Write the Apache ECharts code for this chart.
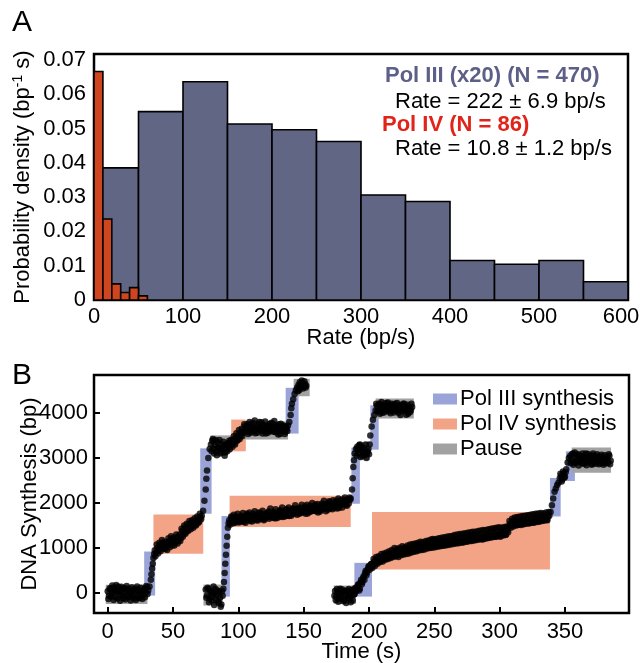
<!DOCTYPE html>
<html>
<head>
<meta charset="utf-8">
<script src="https://cdn.jsdelivr.net/npm/echarts@6/dist/echarts.min.js"></script>
<style>
html,body{margin:0;padding:0;background:#fff;}
#chart{width:644px;height:663px;}
</style>
</head>
<body>
<div id="chart"></div>
<script>
// ---------- Panel A: histogram data ----------
const polIIIBinStart = [0, 50, 100, 150, 200, 250, 300, 350, 400, 450, 500, 550];
const polIIIBinWidth = 50;
const polIIIDensity = [0.0385, 0.0549, 0.0636, 0.0513, 0.0496, 0.0462, 0.0306, 0.0287, 0.0115, 0.0104, 0.0115, 0.0053];
const polIVBinStart = [0, 10, 20, 30, 40, 50];
const polIVBinWidth = 10;
const polIVDensity = [0.0666, 0.0236, 0.0047, 0.0022, 0.0036, 0.0012];
const rateTicks = [0, 100, 200, 300, 400, 500, 600];
const densityTicks = [0, 0.01, 0.02, 0.03, 0.04, 0.05, 0.06, 0.07];

// ---------- Panel B: boxes [t0, t1, bp0, bp1] ----------
const polIIIBoxes = [
  [27.9, 36.3, -53, 924], [70.8, 79.5, 1762, 3213], [136.2, 146.1, 3540, 4556],
  [87.1, 93.5, -76, 1711], [186.5, 193, 1984, 3229], [201, 207.4, 3184, 4169],
  [188.8, 202.3, -76, 673], [338.5, 346.7, 1702, 2556], [350.7, 357.6, 2489, 3147]
];
const polIVBoxes = [
  [35, 73.1, 873, 1747], [94.5, 105.7, 3147, 3851],
  [93.3, 186, 1467, 2162], [202.3, 338.5, 524, 1800]
];
const pauseBoxes = [
  [-1.5, 30.4, -238, 184], [78.5, 95, 3120, 3500], [104.8, 138, 3407, 3813], [142.3, 154.6, 4369, 4756],
  [73.3, 87.9, -275, 191], [191, 200.6, 2950, 3356], [205.1, 234.3, 3873, 4318],
  [173, 190, -238, 169], [355.1, 385.2, 2673, 3229]
];
const timeTicks = [0, 50, 100, 150, 200, 250, 300, 350];
const bpTicks = [0, 1000, 2000, 3000, 4000];

// ---------- Panel B: traces [t, bp] ----------
const trace1 = [
  [0,40],[1,-60],[2,80],[3,-20],[4,120],[5,10],[6,-90],[7,60],[8,150],[9,30],[10,-40],[11,90],[12,-110],[13,20],[14,70],[15,-30],[16,100],[17,-80],[18,0],[19,60],[20,-120],[21,40],[22,-50],[23,80],[24,-10],[25,-100],[26,50],[27,-40],[28,90],[29,10],[30,130],[31,60],
  [32,150],[33,300],[33.5,420],[34,550],[34.5,650],[35,780],[35.5,870],[36,950],
  [37,900],[38,1000],[39,950],[40,1050],[41,1010],[42,1100],[43,1060],[44,980],[45,1120],[46,1080],[47,1150],[48,1090],[49,1200],[50,1130],[51,1060],[52,1180],[53,1240],[54,1150],[55,1300],[56,1220],[57,1380],[58,1300],[59,1450],[60,1360],[61,1480],[62,1420],[63,1540],[64,1470],[65,1560],[66,1500],[67,1580],[68,1530],[69,1620],[70,1590],[71,1680],[72,1720],
  [73,1830],[74,2050],[75,2300],[75.5,2540],[76,2720],[77,3000],[78,3200],
  [79,3300],[80,3380],[81,3200],[82,3280],[83,3150],[84,3350],[85,3220],[86,3100],[87,3300],[88,3180],[89,3260],[90,3120],[91,3300],[92,3230],[93,3380],[94,3270],[95,3320],
  [96,3400],[97,3330],[98,3450],[99,3380],[100,3500],[101,3420],[102,3560],[103,3480],[104,3600],[105,3700],[106,3620],
  [107,3750],[108,3580],[109,3690],[110,3620],[111,3780],[112,3660],[113,3550],[114,3700],[115,3640],[116,3800],[117,3680],[118,3600],[119,3730],[120,3650],[121,3540],[122,3710],[123,3670],[124,3760],[125,3620],[126,3690],[127,3580],[128,3720],[129,3650],[130,3610],[131,3740],[132,3530],[133,3680],[134,3620],[135,3700],[136,3580],[137,3650],[138,3720],
  [139,3800],[140,3950],[140.5,4100],[141,4200],[142,4300],[143,4420],[144,4500],
  [145,4560],[146,4620],[146.5,4500],[147,4680],[148,4600],[149,4650],[150,4580],[151,4640],[152,4600]
];
const trace1b = [
  [0.5,-130],[1.5,110],[2.5,-80],[3.5,170],[4.5,-150],[5.5,60],[6.5,180],[7.5,-120],[8.5,20],[9.5,-170],[10.5,140],[11.5,-60],[12.5,110],[13.5,-140],[14.5,160],[15.5,-90],[16.5,30],[17.5,-160],[18.5,130],[19.5,-70],[20.5,90],[21.5,-150],[22.5,150],[23.5,-110],[24.5,40],[25.5,120],[26.5,-130],[27.5,30],[28.5,-90],[29.5,160],[30.5,-20],
  [36.5,820],[37.5,1080],[38.5,880],[39.5,1120],[40.5,930],[41.5,1180],[42.5,990],[43.5,1140],[44.5,1050],[45.5,960],[46.5,1220],[47.5,1020],[48.5,1260],[49.5,1060],[50.5,1230],[51.5,1120],[52.5,1300],[53.5,1100],[54.5,1250],[55.5,1160],[56.5,1430],[57.5,1250],[58.5,1500],[59.5,1320],[60.5,1540],[61.5,1380],[62.5,1600],[63.5,1420],[64.5,1620],[65.5,1450],[66.5,1660],[67.5,1500],[68.5,1700],[69.5,1560],[70.5,1760],[71.5,1640],
  [79.5,3150],[80.5,3420],[81.5,3100],[82.5,3400],[83.5,3060],[84.5,3230],[85.5,3400],[86.5,3200],[87.5,3120],[88.5,3360],[89.5,3050],[90.5,3300],[91.5,3150],[92.5,3330],[93.5,3200],[94.5,3400],
  [95.5,3250],[96.5,3480],[97.5,3300],[98.5,3550],[99.5,3400],[100.5,3620],[101.5,3480],[102.5,3650],[103.5,3550],[104.5,3750],[105.5,3580],
  [106.5,3700],[107.5,3530],[108.5,3800],[109.5,3560],[110.5,3720],[111.5,3600],[112.5,3830],[113.5,3650],[114.5,3560],[115.5,3740],[116.5,3620],[117.5,3790],[118.5,3540],[119.5,3700],[120.5,3810],[121.5,3630],[122.5,3560],[123.5,3700],[124.5,3590],[125.5,3780],[126.5,3640],[127.5,3820],[128.5,3570],[129.5,3710],[130.5,3520],[131.5,3680],[132.5,3760],[133.5,3600],[134.5,3720],[135.5,3530],[136.5,3690],[137.5,3600],
  [145.5,4480],[147.5,4560],[148.5,4720],[149.5,4540],[150.5,4700],[151.5,4560]
];
const trace2 = [
  [75,80],[76,-50],[77,100],[78,-120],[79,20],[80,-80],[81,150],[82,-30],[83,-150],[84,60],[85,-220],[86,-100],[87,-250],[88,-60],
  [88.5,100],[89,250],[89.5,450],[90,650],[90.5,850],[91,1050],[91.5,1250],[92,1450],[92.5,1550],
  [93,1620],[94,1580],[95,1680],[96,1550],[97,1640],[98,1700],[99,1600],[100,1660],[101,1590],[102,1720],[103,1650],[104,1580],[105,1690],[106,1620],[107,1740],[108,1660],[109,1600],[110,1700],[111,1760],[112,1640],[113,1690],[114,1730],[115,1610],[116,1700],[117,1780],[118,1660],[119,1720],[120,1640],[121,1760],[122,1700],[123,1810],[124,1690],[125,1750],[126,1680],[127,1800],[128,1730],[129,1660],[130,1770],[131,1720],[132,1840],[133,1750],[134,1690],[135,1800],[136,1740],[137,1860],[138,1770],[139,1710],[140,1820],[141,1760],[142,1880],[143,1790],[144,1850],[145,1740],[146,1820],[147,1900],[148,1780],[149,1860],[150,1800],[151,1920],[152,1830],[153,1770],[154,1880],[155,1940],[156,1820],[157,1900],[158,1850],[159,1960],[160,1870],[161,1790],[162,1910],[163,1850],[164,1990],[165,1880],[166,1940],[167,1820],[168,1960],[169,1900],[170,2020],[171,1920],[172,1860],[173,1980],[174,1930],[175,2050],[176,1950],[177,1890],[178,2000],[179,1960],[180,2080],[181,1980],[182,2040],[183,1940],[184,2060],[185,2120],[186,2100],
  [187,2300],[187.5,2550],[188,2800],[188.5,2950],[189,3100],[190,3200],
  [191,3250],[192,3100],[193,3300],[194,3180],[195,3050],[196,3220],[197,3120],[198,3000],[199,3150],[200,3080],
  [200.5,3300],[201,3500],[202,3700],[203,3850],[204,3950],[205,4050],
  [206,4150],[207,4050],[208,4200],[209,4100],[210,4000],[211,4170],[212,4080],[213,4220],[214,4120],[215,4030],[216,4180],[217,4090],[218,4140],[219,4010],[220,4200],[221,4110],[222,4060],[223,4160],[224,3950],[225,4120],[226,4080],[227,4190],[228,4040],[229,4140],[230,3980],[231,4100],[232,4060],[233,4130]
];
const trace2b = [
  [75.5,-100],[76.5,120],[77.5,-200],[78.5,50],[79.5,-160],[80.5,10],[81.5,-260],[82.5,90],[83.5,-40],[84.5,-180],[85.5,30],[86.5,-300],[87.5,40],
  [93.5,1520],[94.5,1700],[95.5,1600],[96.5,1740],[97.5,1560],[98.5,1620],[99.5,1760],[100.5,1570],[101.5,1680],[102.5,1600],[103.5,1780],[104.5,1660],[105.5,1560],[106.5,1760],[107.5,1640],[108.5,1790],[109.5,1680],[110.5,1590],[111.5,1700],[112.5,1820],[113.5,1620],[114.5,1680],[115.5,1790],[116.5,1650],[117.5,1720],[118.5,1830],[119.5,1620],[120.5,1740],[121.5,1680],[122.5,1780],[123.5,1650],[124.5,1880],[125.5,1700],[126.5,1780],[127.5,1660],[128.5,1860],[129.5,1740],[130.5,1680],[131.5,1820],[132.5,1700],[133.5,1900],[134.5,1760],[135.5,1700],[136.5,1850],[137.5,1720],[138.5,1900],[139.5,1780],[140.5,1720],[141.5,1870],[142.5,1760],[143.5,1950],[144.5,1790],[145.5,1880],[146.5,1760],[147.5,1840],[148.5,1960],[149.5,1800],[150.5,1880],[151.5,1760],[152.5,1960],[153.5,1860],[154.5,1800],[155.5,1880],[156.5,2000],[157.5,1830],[158.5,1920],[159.5,1820],[160.5,1980],[161.5,1890],[162.5,1810],[163.5,1950],[164.5,1860],[165.5,2050],[166.5,1900],[167.5,1980],[168.5,1850],[169.5,2040],[170.5,1880],[171.5,1980],[172.5,2060],[173.5,1900],[174.5,2000],[175.5,1880],[176.5,2100],[177.5,1960],[178.5,2060],[179.5,1900],[180.5,2010],[181.5,2120],[182.5,1960],[183.5,2080],[184.5,1990],[185.5,2070],
  [190.5,3050],[191.5,3180],[192.5,3280],[193.5,3020],[194.5,3250],[195.5,3140],[196.5,3060],[197.5,3300],[198.5,3100],[199.5,3200],
  [205.5,4200],[206.5,4030],[207.5,4180],[208.5,3980],[209.5,4240],[210.5,4090],[211.5,4010],[212.5,4160],[213.5,4050],[214.5,4230],[215.5,4100],[216.5,3990],[217.5,4200],[218.5,4060],[219.5,4170],[220.5,4050],[221.5,4220],[222.5,4000],[223.5,4100],[224.5,4180],[225.5,4040],[226.5,4210],[227.5,4080],[228.5,3960],[229.5,4180],[230.5,4100],[231.5,4020],[232.5,4200]
];
const trace3 = [
  [174,50],[175,-80],[176,20],[177,-120],[178,100],[179,-40],[180,30],[181,-150],[182,-60],[183,60],[184,-100],[185,10],[186,-200],[187,-50],[188,80],[189,-20],[190,40],
  [191,120],[192,200],[193,100],[194,300],[195,250],[196,380],[197,450],[198,400],[199,520],[200,600],[201,560],[202,650],
  [203,620],[204,700],[205,660],[206,740],[207,690],[208,780],[209,720],[210,800],[211,760],[212,830],[213,780],[214,850],[215,800],[216,870],[217,820],[218,900],[219,840],[220,880],[221,920],[222,850],[223,960],[224,890],[225,930],[226,870],[227,980],[228,910],[229,950],[230,1000],[231,920],[232,970],[233,1020],[234,940],[235,990],[236,1050],[237,960],[238,1010],[239,1080],[240,980],[241,1030],[242,1090],[243,1000],[244,1060],[245,1110],[246,1020],[247,1080],[248,1040],[249,1200],[250,1070],[251,1110],[252,1050],[253,1130],[254,1090],[255,1150],[256,1060],[257,1120],[258,1170],[259,1080],[260,1140],[261,1100],[262,1180],[263,1110],[264,1160],[265,1200],[266,1120],[267,1180],[268,1140],[269,1220],[270,1160],[271,1210],[272,1130],[273,1240],[274,1190],[275,1150],[276,1250],[277,1200],[278,1270],[279,1180],[280,1230],[281,1290],[282,1200],[283,1260],[284,1220],[285,1300],[286,1240],[287,1190],[288,1280],[289,1250],[290,1310],[291,1230],[292,1290],[293,1260],[294,1340],[295,1270],[296,1320],[297,1250],[298,1350],[299,1290],[300,1330],[301,1280],[302,1370],[303,1310],[304,1360],[305,1300],[306,1400],[307,1480],[308,1540],[309,1500],[310,1580],[311,1530],[312,1600],[313,1550],[314,1510],[315,1590],[316,1560],[317,1620],[318,1540],[319,1600],[320,1570],[321,1630],[322,1580],[323,1550],[324,1640],[325,1600],[326,1570],[327,1650],[328,1610],[329,1680],[330,1590],[331,1640],[332,1690],[333,1620],[334,1660],[335,1700],[336,1630],[337,1690],[338,1720],
  [339,1800],[340,1950],[341,2100],[342,2250],[343,2320],[344,2400],[345,2450],[346,2550],
  [347,2600],[348,2520],[349,2650],[350,2580],
  [351,2750],[352,2900],[353,3000],
  [354,3050],[355,2950],[356,3100],[357,2900],[358,3000],[359,2950],[360,3080],[361,2920],[362,2990],[363,2880],[364,3030],[365,2960],[366,3100],[367,2900],[368,3010],[369,2940],[370,3060],[371,2870],[372,2980],[373,3040],[374,2910],[375,3000],[376,2860],[377,2970],[378,3070],[379,2900],[380,2950],[381,2880],[382,3010],[383,2920],[384,3050],[385,2940]
];
const trace3b = [
  [173.5,-60],[174.5,-150],[175.5,90],[176.5,-190],[177.5,-20],[178.5,-100],[179.5,80],[180.5,-180],[181.5,40],[182.5,-220],[183.5,-40],[184.5,90],[185.5,-130],[186.5,60],[187.5,-160],[188.5,-30],[189.5,120],
  [190.5,60],[191.5,180],[192.5,60],[193.5,240],[194.5,200],[195.5,340],[196.5,300],[197.5,500],[198.5,460],[199.5,580],[200.5,520],[201.5,640],[202.5,560],
  [203.5,760],[204.5,600],[205.5,800],[206.5,650],[207.5,820],[208.5,690],[209.5,870],[210.5,700],[211.5,880],[212.5,740],[213.5,900],[214.5,760],[215.5,930],[216.5,780],[217.5,960],[218.5,800],[219.5,1000],[220.5,820],[221.5,980],[222.5,800],[223.5,1010],[224.5,840],[225.5,1040],[226.5,860],[227.5,1020],[228.5,870],[229.5,1060],[230.5,880],[231.5,1080],[232.5,900],[233.5,1090],[234.5,920],[235.5,1100],[236.5,930],[237.5,1120],[238.5,950],[239.5,1140],[240.5,960],[241.5,1130],[242.5,970],[243.5,1160],[244.5,990],[245.5,1170],[246.5,1000],[247.5,1190],[248.5,1010],[249.5,1180],[250.5,1020],[251.5,1200],[252.5,1030],[253.5,1220],[254.5,1040],[255.5,1230],[256.5,1050],[257.5,1240],[258.5,1060],[259.5,1250],[260.5,1070],[261.5,1260],[262.5,1080],[263.5,1270],[264.5,1090],[265.5,1290],[266.5,1100],[267.5,1300],[268.5,1110],[269.5,1310],[270.5,1120],[271.5,1320],[272.5,1130],[273.5,1330],[274.5,1140],[275.5,1340],[276.5,1150],[277.5,1350],[278.5,1160],[279.5,1360],[280.5,1170],[281.5,1360],[282.5,1180],[283.5,1380],[284.5,1190],[285.5,1390],[286.5,1200],[287.5,1400],[288.5,1210],[289.5,1400],[290.5,1220],[291.5,1420],[292.5,1230],[293.5,1430],[294.5,1240],[295.5,1440],[296.5,1250],[297.5,1450],[298.5,1260],[299.5,1460],[300.5,1250],[301.5,1450],[302.5,1280],[303.5,1470],[304.5,1290],[305.5,1480],[306.5,1350],[307.5,1600],[308.5,1450],[309.5,1650],[310.5,1480],[311.5,1680],[312.5,1500],[313.5,1690],[314.5,1520],[315.5,1700],[316.5,1510],[317.5,1710],[318.5,1530],[319.5,1720],[320.5,1540],[321.5,1730],[322.5,1550],[323.5,1740],[324.5,1560],[325.5,1750],[326.5,1570],[327.5,1760],[328.5,1580],[329.5,1770],[330.5,1590],[331.5,1780],[332.5,1600],[333.5,1770],[334.5,1610],[335.5,1790],[336.5,1620],[337.5,1800],
  [346.5,2650],[347.5,2480],[348.5,2700],[349.5,2560],[350.5,2680],
  [354.5,2880],[355.5,3080],[356.5,2850],[357.5,3120],[358.5,2900],[359.5,3060],[360.5,2830],[361.5,3050],[362.5,2950],[363.5,3100],[364.5,2870],[365.5,3010],[366.5,2840],[367.5,3090],[368.5,2920],[369.5,3040],[370.5,2850],[371.5,3100],[372.5,2930],[373.5,2870],[374.5,3080],[375.5,2950],[376.5,3040],[377.5,2880],[378.5,3010],[379.5,2850],[380.5,3060],[381.5,2960],[382.5,2890],[383.5,3080],[384.5,2860]
];

// ---------- build ----------
const FONT = 'Liberation Sans, Arial, Helvetica, sans-serif';
const histData = (starts, width, vals) => starts.map((s, i) => [s, s + width, vals[i]]);

function histRender(params, api) {
  const p0 = api.coord([api.value(0), api.value(2)]);
  const p1 = api.coord([api.value(1), 0]);
  return {
    type: 'rect',
    shape: { x: p0[0], y: p0[1], width: p1[0] - p0[0], height: p1[1] - p0[1] },
    style: { fill: api.visual('color'), stroke: '#000', lineWidth: 1.6 }
  };
}
function boxRender(params, api) {
  const p0 = api.coord([api.value(0), api.value(3)]);
  const p1 = api.coord([api.value(1), api.value(2)]);
  return {
    type: 'rect',
    shape: { x: p0[0], y: p0[1], width: p1[0] - p0[0], height: p1[1] - p0[1] },
    style: { fill: api.visual('color') }
  };
}

const COL_P3 = '#9aa4d8', COL_P4 = '#f3a487', COL_PAUSE = '#a2a2a2';
const dotSeries = (name, data) => ({
  name, type: 'scatter', xAxisIndex: 1, yAxisIndex: 1,
  symbolSize: 6.5, itemStyle: { color: '#000' }, z: 5, data
});

const chart = echarts.init(document.getElementById('chart'), null, { renderer: 'canvas' });
chart.setOption({
  backgroundColor: '#fff',
  animation: false,
  textStyle: { fontFamily: FONT },
  grid: [
    { left: 94, right: 16, top: 54, bottom: 363, show: true, borderColor: '#000', borderWidth: 2.5, backgroundColor: 'transparent', outerBoundsMode: 'none', containLabel: false },
    { left: 94, right: 15, top: 375, bottom: 50, show: true, borderColor: '#000', borderWidth: 2.5, backgroundColor: 'transparent', outerBoundsMode: 'none', containLabel: false }
  ],
  xAxis: [
    {
      gridIndex: 0, type: 'value', min: 0, max: 600, interval: 100,
      axisLine: { show: false, onZero: false }, axisTick: { show: false }, splitLine: { show: false },
      axisLabel: {
        color: '#000', fontSize: 22, fontFamily: FONT, margin: 6,
        customValues: rateTicks,
        formatter: v => v === 600 ? '{r|600}' : String(v),
        rich: { r: { fontSize: 22, fontFamily: FONT, color: '#000', padding: [0, 14, 0, 0] } }
      },
      name: 'Rate (bp/s)', nameLocation: 'middle', nameGap: 27, nameMoveOverlap: false,
      nameTextStyle: { color: '#000', fontSize: 22, fontFamily: FONT }
    },
    {
      gridIndex: 1, type: 'value', min: -10.5, max: 399,
      axisLine: { show: false, onZero: false }, splitLine: { show: false },
      axisTick: { show: true, inside: true, length: 6, lineStyle: { color: '#000', width: 2 }, customValues: timeTicks },
      axisLabel: { color: '#000', fontSize: 22, fontFamily: FONT, margin: 8, customValues: timeTicks, formatter: v => String(v) },
      name: 'Time (s)', nameLocation: 'middle', nameGap: 28, nameMoveOverlap: false,
      nameTextStyle: { color: '#000', fontSize: 22, fontFamily: FONT }
    }
  ],
  yAxis: [
    {
      gridIndex: 0, type: 'value', min: 0, max: 0.0717, interval: 0.01,
      axisLine: { show: false, onZero: false }, axisTick: { show: false }, splitLine: { show: false },
      axisLabel: {
        color: '#000', fontSize: 22, fontFamily: FONT, margin: 8,
        customValues: densityTicks,
        formatter: v => v === 0 ? '0' : v.toFixed(2)
      },
      name: 'Probability density (bp{sup|-1} s)', nameLocation: 'middle', nameGap: 59, nameMoveOverlap: false,
      nameTextStyle: {
        color: '#000', fontSize: 22, fontFamily: FONT,
        rich: { sup: { fontSize: 14, fontFamily: FONT, color: '#000', padding: [0, 0, 10, 0] } }
      }
    },
    {
      gridIndex: 1, type: 'value', min: -440, max: 4840,
      axisLine: { show: false, onZero: false }, splitLine: { show: false },
      axisTick: { show: true, inside: true, length: 6, lineStyle: { color: '#000', width: 2 }, customValues: bpTicks },
      axisLabel: { color: '#000', fontSize: 22, fontFamily: FONT, margin: 6, customValues: bpTicks, formatter: v => String(v) },
      name: 'DNA Synthesis (bp)', nameLocation: 'middle', nameGap: 53, nameMoveOverlap: false,
      nameTextStyle: { color: '#000', fontSize: 22, fontFamily: FONT }
    }
  ],
  legend: {
    orient: 'vertical', left: 428, top: 383,
    itemWidth: 24, itemHeight: 11, itemGap: 3,
    textStyle: { color: '#000', fontSize: 22, fontFamily: FONT, padding: [0, 0, 0, -2] },
    data: [
      { name: 'Pol III synthesis', icon: 'rect', itemStyle: { color: COL_P3 } },
      { name: 'Pol IV synthesis', icon: 'rect', itemStyle: { color: COL_P4 } },
      { name: 'Pause', icon: 'rect', itemStyle: { color: COL_PAUSE } }
    ]
  },
  graphic: [
    { type: 'text', left: 12, top: 8, style: { text: 'A', fontSize: 30, fontFamily: FONT, fill: '#000' } },
    { type: 'text', left: 12, top: 361, style: { text: 'B', fontSize: 30, fontFamily: FONT, fill: '#000' } },
    { type: 'text', x: 385, y: 76, style: { text: 'Pol III (x20) (N = 470)', fontSize: 22, fontWeight: 'bold', fontFamily: FONT, fill: '#5c5f88', verticalAlign: 'middle' } },
    { type: 'text', x: 395, y: 102, style: { text: 'Rate = 222 ± 6.9 bp/s', fontSize: 22, fontFamily: FONT, fill: '#000', verticalAlign: 'middle' } },
    { type: 'text', x: 382, y: 125, style: { text: 'Pol IV (N = 86)', fontSize: 22, fontWeight: 'bold', fontFamily: FONT, fill: '#e2231a', verticalAlign: 'middle' } },
    { type: 'text', x: 395, y: 149, style: { text: 'Rate = 10.8 ± 1.2 bp/s', fontSize: 22, fontFamily: FONT, fill: '#000', verticalAlign: 'middle' } }
  ],
  series: [
    {
      name: 'Pol III (x20)', type: 'custom', xAxisIndex: 0, yAxisIndex: 0,
      renderItem: histRender, encode: { x: [0, 1], y: 2 },
      itemStyle: { color: '#626685' }, z: 2,
      data: histData(polIIIBinStart, polIIIBinWidth, polIIIDensity)
    },
    {
      name: 'Pol IV', type: 'custom', xAxisIndex: 0, yAxisIndex: 0,
      renderItem: histRender, encode: { x: [0, 1], y: 2 },
      itemStyle: { color: '#cf4520' }, z: 3,
      data: histData(polIVBinStart, polIVBinWidth, polIVDensity)
    },
    {
      name: 'Pol III synthesis', type: 'custom', xAxisIndex: 1, yAxisIndex: 1,
      renderItem: boxRender, encode: { x: [0, 1], y: [2, 3] },
      itemStyle: { color: COL_P3 }, z: 2, data: polIIIBoxes
    },
    {
      name: 'Pol IV synthesis', type: 'custom', xAxisIndex: 1, yAxisIndex: 1,
      renderItem: boxRender, encode: { x: [0, 1], y: [2, 3] },
      itemStyle: { color: COL_P4 }, z: 2, data: polIVBoxes
    },
    {
      name: 'Pause', type: 'custom', xAxisIndex: 1, yAxisIndex: 1,
      renderItem: boxRender, encode: { x: [0, 1], y: [2, 3] },
      itemStyle: { color: COL_PAUSE }, z: 2, data: pauseBoxes
    },
    dotSeries('trace1', trace1.concat(trace1b)),
    dotSeries('trace2', trace2.concat(trace2b)),
    dotSeries('trace3', trace3.concat(trace3b))
  ]
});
</script>
</body>
</html>
